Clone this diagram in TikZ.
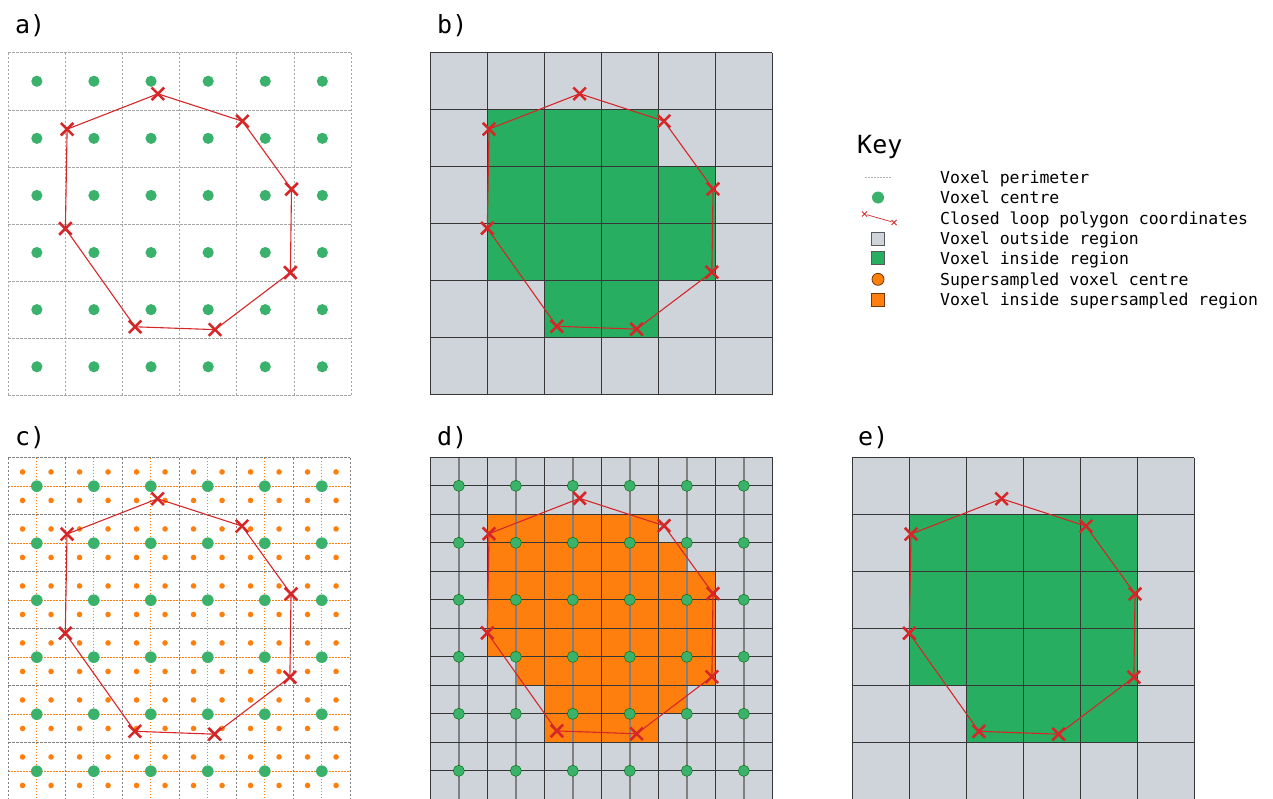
\documentclass[tikz,border=0pt]{standalone}
\usepackage{fontspec}
\newfontfamily\monof{DejaVu Sans Mono}
\usetikzlibrary{shapes.misc,calc}
\definecolor{vgrey}{RGB}{207,212,219}
\definecolor{vgreen}{RGB}{39,174,96}
\definecolor{dotgreen}{RGB}{58,178,107}
\definecolor{vorange}{RGB}{255,127,14}
\definecolor{vred}{RGB}{214,39,40}
\definecolor{gridline}{RGB}{55,55,55}
\tikzset{
  polyline/.style={draw=vred, line width=1.1pt},
  xmk/.style={cross out, draw=vred, line width=2.6pt, minimum size=12.5pt, inner sep=0pt, outer sep=0pt},
  smallx/.style={cross out, draw=vred, line width=1pt, minimum size=5pt, inner sep=0pt, outer sep=0pt},
  gdot/.style={fill=dotgreen},
  gdotb/.style={fill=dotgreen, draw=green!40!black, line width=0.4pt},
  odot/.style={fill=vorange},
  voxdash/.style={draw=black!35, line width=0.6pt, dash pattern=on 2.5pt off 1.5pt},
  voxdashc/.style={draw=black!50, line width=0.7pt, dash pattern=on 2.5pt off 1.5pt},
  subdot/.style={draw=vorange, line width=1pt, dash pattern=on 1.2pt off 1.8pt},
  gline/.style={draw=gridline, line width=0.8pt},
  cline/.style={draw=black!50, line width=1.8pt},
  lbl/.style={font=\monof\fontsize{25}{30}\selectfont, anchor=base west, inner sep=0pt},
  keytxt/.style={font=\monof\fontsize{16.5}{20}\selectfont, anchor=base west, inner sep=0pt},
}
\newcommand{\drawpoly}[1]{%
  \coordinate (#1v1) at (2.62,0.72);
  \coordinate (#1v2) at (4.10,1.20);
  \coordinate (#1v3) at (4.96,2.39);
  \coordinate (#1v4) at (4.94,3.85);
  \coordinate (#1v5) at (3.62,4.85);
  \coordinate (#1v6) at (2.22,4.80);
  \coordinate (#1v7) at (1.00,3.08);
  \coordinate (#1v8) at (1.03,1.34);
  \draw[polyline] (#1v1) -- (#1v2) -- (#1v3) -- (#1v4) -- (#1v5) -- (#1v6) -- (#1v7) -- (#1v8) -- cycle;
  \foreach \i in {1,...,8} {\node[xmk] (#1x\i) at (#1v\i) {};}
}
\begin{document}
\begin{tikzpicture}[x=1pt,y=-1pt]
\useasboundingbox (0,0) rectangle (1273,798);

% ---------- labels ----------
\node[lbl] (la) at (15,33.5) {a)};
\node[lbl] (lb) at (437,33.5) {b)};
\node[lbl] (lc) at (15,445) {c)};
\node[lbl] (ld) at (437,445) {d)};
\node[lbl] (le) at (858,445) {e)};

% ---------- panel a ----------
\begin{scope}[shift={(8.3,52.7)}, x=57.1pt, y=-57.1pt]
  \foreach \k in {0,...,6} {
    \draw[voxdash] (\k,0) -- (\k,6);
    \draw[voxdash] (0,\k) -- (6,\k);
  }
  \foreach \i in {0,...,5} \foreach \j in {0,...,5}
    \fill[gdot] (\i+0.5,\j+0.5) circle (5.6pt);
  \drawpoly{a}
\end{scope}

% ---------- panel b ----------
\begin{scope}[shift={(430.3,52.7)}, x=57pt, y=-57pt]
  \fill[vgrey] (0,0) rectangle (6,6);
  \fill[vgreen] (1,1) rectangle (4,2);
  \fill[vgreen] (1,2) rectangle (5,4);
  \fill[vgreen] (2,4) rectangle (4,5);
  \foreach \k in {0,...,6} {
    \draw[gline] (\k,0) -- (\k,6);
    \draw[gline] (0,\k) -- (6,\k);
  }
  \drawpoly{b}
\end{scope}

% ---------- panel c ----------
\begin{scope}[shift={(8.3,457.7)}, x=57pt, y=-57pt]
  \foreach \k in {0,...,5} {
    \draw[subdot] (\k+0.5,0) -- (\k+0.5,6);
    \draw[subdot] (0,\k+0.5) -- (6,\k+0.5);
  }
  \foreach \k in {0,...,6} {
    \draw[voxdashc] (\k,0) -- (\k,6);
    \draw[voxdashc] (0,\k) -- (6,\k);
  }
  \foreach \i in {0,...,11} \foreach \j in {0,...,11}
    \fill[odot] ({(\i+0.5)/2},{(\j+0.5)/2}) circle (2.8pt);
  \foreach \i in {0,...,5} \foreach \j in {0,...,5}
    \fill[gdot] (\i+0.5,\j+0.5) circle (5.8pt);
  \drawpoly{c}
\end{scope}

% ---------- panel d ----------
\begin{scope}[shift={(430.3,457.3)}, x=57pt, y=-57pt]
  \fill[vgrey] (0,0) rectangle (6,6);
  \foreach \r/\a/\b in {2/2/7, 3/2/8, 4/2/9, 5/2/9, 6/2/9, 7/3/9, 8/4/8, 9/4/7}
    \fill[vorange] ({\a*0.5},{\r*0.5}) rectangle ({(\b+1)*0.5},{(\r+1)*0.5});
  \foreach \k in {0,...,5} \draw[cline] (\k+0.5,0) -- (\k+0.5,6);
  \foreach \k in {0,...,6} \draw[gline] (\k,0) -- (\k,6);
  \foreach \k in {0,...,12} \draw[gline] (0,{\k*0.5}) -- (6,{\k*0.5});
  \foreach \i in {0,...,5} \foreach \j in {0,...,5}
    \filldraw[gdotb] (\i+0.5,\j+0.5) circle (5.6pt);
  \drawpoly{d}
\end{scope}

% ---------- panel e ----------
\begin{scope}[shift={(852.3,457.7)}, x=57pt, y=-57pt]
  \fill[vgrey] (0,0) rectangle (6,6);
  \fill[vgreen] (1,1) rectangle (5,4);
  \fill[vgreen] (2,4) rectangle (5,5);
  \foreach \k in {0,...,6} {
    \draw[gline] (\k,0) -- (\k,6);
    \draw[gline] (0,\k) -- (6,\k);
  }
  \drawpoly{e}
\end{scope}

% ---------- key ----------
\node[font=\monof\fontsize{25}{30}\selectfont, anchor=base west, inner sep=0pt] (keyt) at (857,153.5) {Key};
\coordinate (kl1) at (865,177.3);
\coordinate (kl2) at (892,177.3);
\draw[draw=black!30, line width=0.6pt, dash pattern=on 1.5pt off 1.5pt] (kl1) -- (kl2);
\fill[gdot] (878,197.5) circle (6pt);
\node[smallx] (kx1) at (864.5,214) {};
\node[smallx] (kx2) at (894,222.5) {};
\draw[draw=vred, line width=0.7pt] (kx1) -- (kx2);
\filldraw[fill=vgrey, draw=black!65, line width=0.8pt] (871.5,232.5) rectangle (884.5,245.5);
\filldraw[fill=vgreen, draw=black!65, line width=0.8pt] (871.5,251) rectangle (884.5,264);
\filldraw[fill=vorange, draw=black!55!vorange, line width=0.8pt] (878,279.3) circle (6pt);
\filldraw[fill=vorange, draw=black!55!vorange, line width=0.8pt] (871.5,293.5) rectangle (884.5,306.5);

\node[keytxt] (k1) at (940,183.3) {Voxel perimeter};
\node[keytxt] (k2) at (940,203.7) {Voxel centre};
\node[keytxt] (k3) at (940,224.1) {Closed loop polygon coordinates};
\node[keytxt] (k4) at (940,244.5) {Voxel outside region};
\node[keytxt] (k5) at (940,264.9) {Voxel inside region};
\node[keytxt] (k6) at (940,285.3) {Supersampled voxel centre};
\node[keytxt] (k7) at (940,305.7) {Voxel inside supersampled region};
\end{tikzpicture}
\end{document}
